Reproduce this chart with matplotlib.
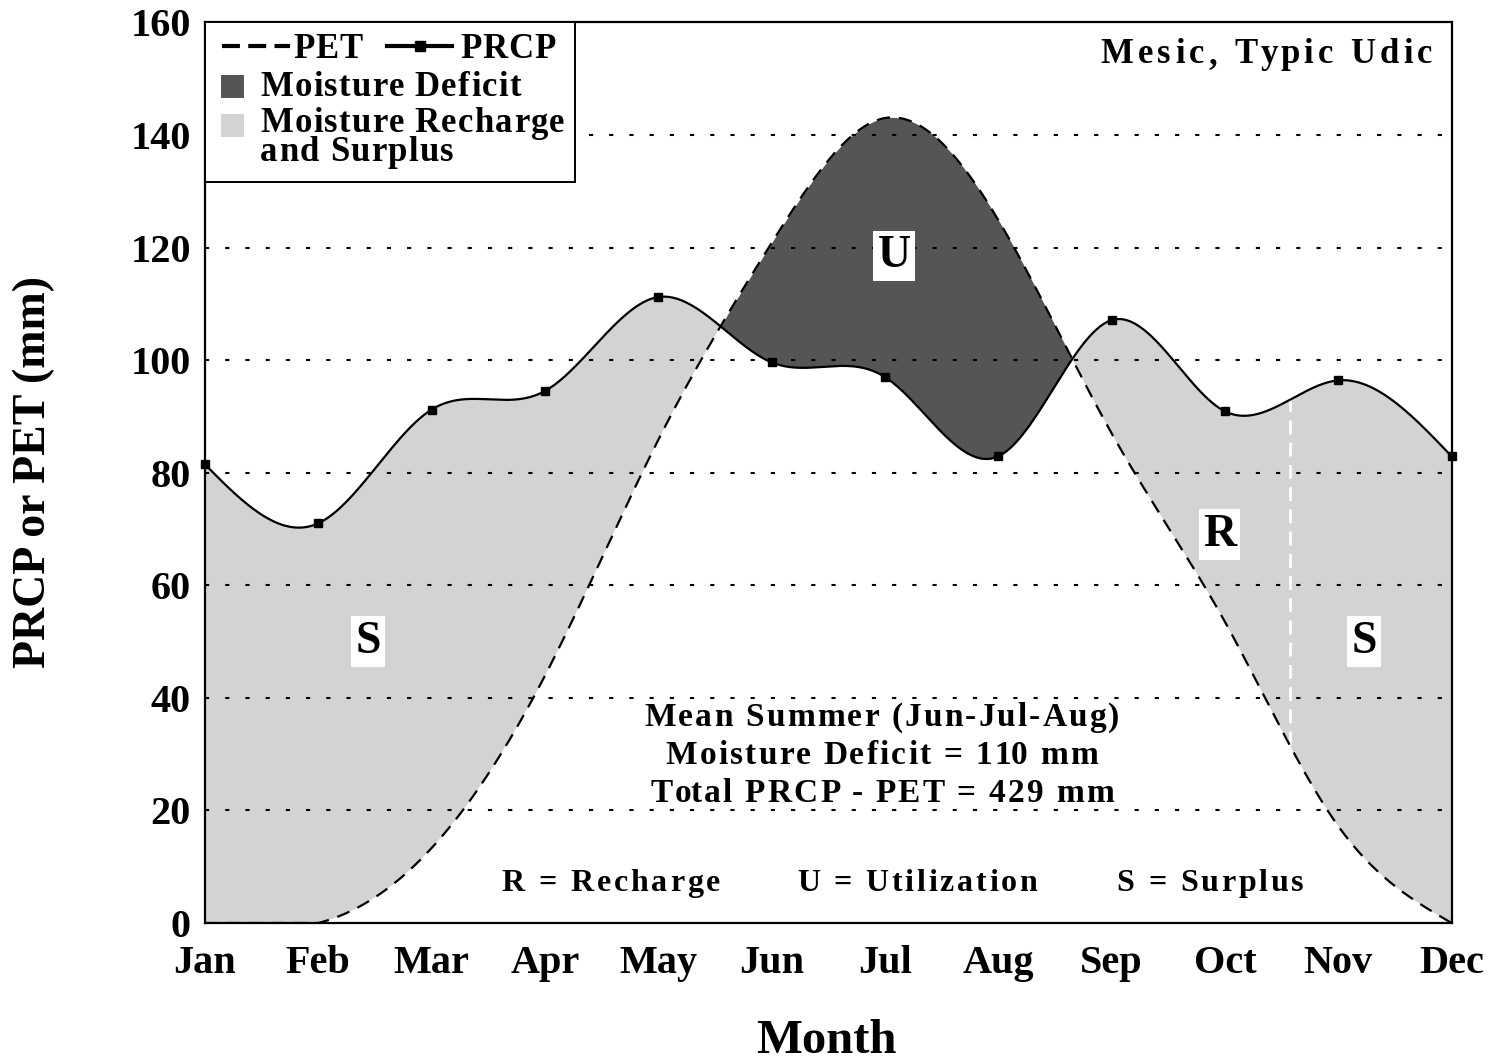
import numpy as np
import matplotlib.pyplot as plt
from matplotlib.patches import Rectangle
from matplotlib.font_manager import FontProperties

months = ['Jan', 'Feb', 'Mar', 'Apr', 'May', 'Jun', 'Jul', 'Aug', 'Sep', 'Oct', 'Nov', 'Dec']
prcp = [81.5, 71.0, 91.2, 94.5, 111.2, 99.6, 97.0, 82.9, 107.1, 90.9, 96.4, 82.9]
pet = [0.0, 0.0, 13.3, 43.9, 85.8, 120.8, 143.0, 124.9, 87.0, 53.5, 17.2, 0.0]
yticks = [0, 20, 40, 60, 80, 100, 120, 140, 160]
# where recharge ends and surplus begins (between Oct and Nov)
recharge_end = 9.57
summary = ['Mean Summer (Jun-Jul-Aug)', 'Moisture Deficit = 110 mm', 'Total PRCP - PET = 429 mm']
key = ['R = Recharge', 'U = Utilization', 'S = Surplus']

FONT = 'Liberation Serif'
plt.rcParams['font.family'] = [FONT, 'DejaVu Serif']
plt.rcParams['font.weight'] = 'bold'

W, H = 1495, 1064


def nat_spline(x, y, xs):
    x = np.asarray(x, float)
    y = np.asarray(y, float)
    n = len(x)
    h = np.diff(x)
    A = np.zeros((n, n))
    b = np.zeros(n)
    A[0, 0] = A[-1, -1] = 1
    for i in range(1, n - 1):
        A[i, i - 1] = h[i - 1]
        A[i, i] = 2 * (h[i - 1] + h[i])
        A[i, i + 1] = h[i]
        b[i] = 6 * ((y[i + 1] - y[i]) / h[i] - (y[i] - y[i - 1]) / h[i - 1])
    M = np.linalg.solve(A, b)
    idx = np.clip(np.searchsorted(x, xs) - 1, 0, n - 2)
    x0, x1 = x[idx], x[idx + 1]
    hh = x1 - x0
    t0 = x1 - xs
    t1 = xs - x0
    return (M[idx] * t0 ** 3 / (6 * hh) + M[idx + 1] * t1 ** 3 / (6 * hh)
            + (y[idx] / hh - M[idx] * hh / 6) * t0
            + (y[idx + 1] / hh - M[idx + 1] * hh / 6) * t1)


def fx(x):
    return x / W


def fy(y):
    return 1 - y / H


def track_text(ax, x, y, s, size, track, ha='left', zorder=9):
    # text with extra letter spacing, x/y are pixel positions of the baseline
    prop = FontProperties(family=FONT, weight='bold', size=size)
    r = fig.canvas.get_renderer()
    ref = r.get_text_width_height_descent('x', prop, ismath=False)[0]
    adv = [r.get_text_width_height_descent(s[:i] + 'x', prop, ismath=False)[0] - ref
           for i in range(len(s))]
    total = r.get_text_width_height_descent(s, prop, ismath=False)[0] + track * (len(s) - 1)
    start = {'left': 0, 'center': -total / 2, 'right': -total}[ha]
    for i, ch in enumerate(s):
        if ch == ' ':
            continue
        ax.annotate(ch, xy=(fx(x), fy(y)), xycoords=fig.transFigure,
                    xytext=(start + adv[i] + track * i, 0), textcoords='offset pixels',
                    ha='left', va='baseline', fontproperties=prop, zorder=zorder,
                    annotation_clip=False)


mx = np.arange(len(months))
xs = np.linspace(0, len(months) - 1, 2000)
prcp_s = nat_spline(mx, prcp, xs)
pet_s = np.maximum(nat_spline(mx, pet, xs), 0)

fig = plt.figure(figsize=(W / 100, H / 100), dpi=100)
ax = fig.add_axes([0.137, 0.1325, 0.834, 0.8465])

ax.fill_between(xs, pet_s, prcp_s, where=prcp_s >= pet_s, interpolate=True,
                color='#d3d3d3', lw=0, zorder=1)
ax.fill_between(xs, pet_s, prcp_s, where=prcp_s < pet_s, interpolate=True,
                color='#555555', lw=0, zorder=1)

for yv in yticks[1:-1]:
    ax.axhline(yv, color='black', lw=1.5, ls=(0, (2, 7.7)), zorder=2)

ax.plot([recharge_end, recharge_end],
        [np.interp(recharge_end, xs, pet_s), np.interp(recharge_end, xs, prcp_s)],
        color='white', lw=2, ls=(0, (5, 3)), zorder=3)

ax.plot(xs, pet_s, color='black', lw=1.6, ls=(0, (6, 4)), zorder=4)
ax.plot(xs, prcp_s, color='black', lw=1.6, zorder=4)
ax.plot(mx, prcp, ls='none', marker='s', ms=6, color='black', zorder=5, clip_on=False)

ax.set_xlim(0, len(months) - 1)
ax.set_ylim(0, 160)
ax.set_xticks(mx)
ax.set_xticklabels(months)
ax.set_yticks(yticks)
ax.tick_params(axis='both', length=0, labelsize=29)
ax.tick_params(axis='x', pad=16)
ax.tick_params(axis='y', pad=10)
for s in ax.spines.values():
    s.set_linewidth(1.6)
    s.set_zorder(6)

fig.text(fx(826), fy(1053), 'Month', fontsize=35, fontweight='bold', ha='center', va='baseline')
fig.text(fx(34), fy(472), 'PRCP or PET (mm)', fontsize=33, fontweight='bold',
         rotation=90, ha='center', va='center')

box = dict(facecolor='white', edgecolor='none', pad=3)
ax.text(6.08, 118.5, 'U', fontsize=33, ha='center', va='center', bbox=box, zorder=7)
ax.text(1.44, 50, 'S', fontsize=33, ha='center', va='center', bbox=box, zorder=7)
ax.text(8.95, 69, 'R', fontsize=33, ha='center', va='center', bbox=box, zorder=7)
ax.text(10.23, 50, 'S', fontsize=33, ha='center', va='center', bbox=box, zorder=7)

for i, line in enumerate(summary):
    track_text(ax, 882, 726 + 38 * i, line, 24, 2.2, ha='center')
for cx, line in zip([611, 917, 1210], key):
    track_text(ax, cx, 891, line, 23, 2.8, ha='center')
track_text(ax, 1432, 63, 'Mesic, Typic Udic', 25, 4.2, ha='right')

# legend box drawn by hand
T = fig.transFigure
ax.add_patch(Rectangle((fx(205), fy(182)), fx(575) - fx(205), fy(22) - fy(182), transform=T,
                       facecolor='white', edgecolor='black', lw=1.4, zorder=8, clip_on=False))
ax.plot([fx(222), fx(290)], [fy(46), fy(46)], transform=T, color='black', lw=3,
        ls=(0, (4.3, 2.0)), zorder=9, clip_on=False)
track_text(ax, 293, 58, 'PET', 25, 1.0)
ax.plot([fx(387), fx(452)], [fy(46), fy(46)], transform=T, color='black', lw=3,
        zorder=9, clip_on=False)
ax.plot([fx(420)], [fy(46)], transform=T, marker='s', ms=7, color='black', zorder=9,
        clip_on=False)
track_text(ax, 460, 58, 'PRCP', 25, 1.0)
ax.add_patch(Rectangle((fx(221), fy(98)), fx(244) - fx(221), fy(75) - fy(98), transform=T,
                       facecolor='#555555', edgecolor='none', zorder=9, clip_on=False))
track_text(ax, 260, 96, 'Moisture Deficit', 25, 1.3)
ax.add_patch(Rectangle((fx(221), fy(137)), fx(244) - fx(221), fy(114) - fy(137), transform=T,
                       facecolor='#d3d3d3', edgecolor='none', zorder=9, clip_on=False))
track_text(ax, 260, 132, 'Moisture Recharge', 25, 1.3)
track_text(ax, 260, 161, 'and Surplus', 25, 1.3)

fig.savefig('out.png', dpi=100)
